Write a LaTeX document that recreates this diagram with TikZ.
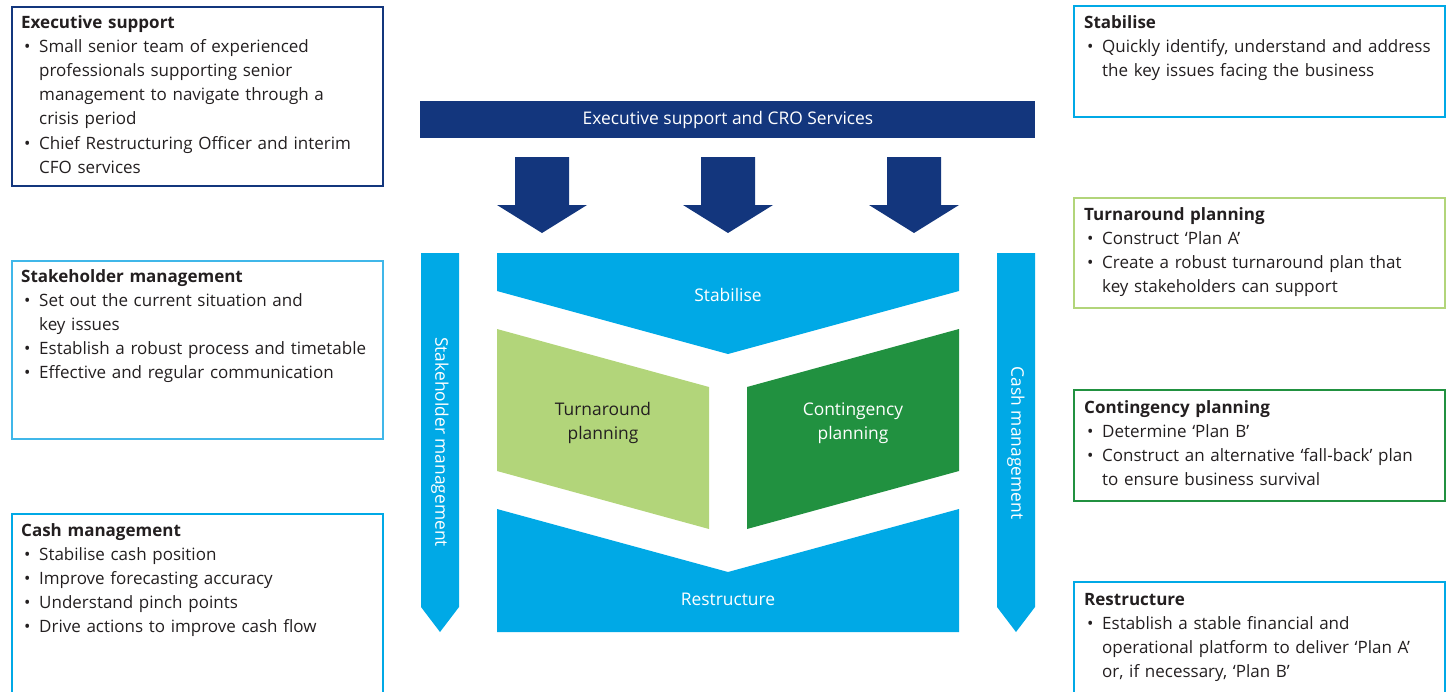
\documentclass[tikz,border=0pt]{standalone}
\usepackage{fontspec}
\setmainfont{Open Sans}
\definecolor{navy}{RGB}{19,54,125}
\definecolor{cyanb}{RGB}{0,169,230}
\definecolor{cyanl}{RGB}{64,183,233}
\definecolor{lgreen}{RGB}{178,213,122}
\definecolor{dgreen}{RGB}{33,145,64}
\definecolor{ink}{RGB}{35,31,32}
\newcommand{\bitem}[1]{\noindent\hangindent=18pt\hangafter=1\makebox[18pt][l]{\hspace{3pt}•}#1\par}
\newcommand{\bhead}[1]{\noindent\textbf{#1}\par}
\begin{document}
\begin{tikzpicture}[x=1pt,y=-1pt,
  infobox/.style={draw=#1,line width=2pt,anchor=north west,inner sep=0pt,minimum width=371pt},
  infotxt/.style={anchor=base west,inner sep=0pt,text width=368pt,align=left,text=ink,
    font=\fontsize{17}{24.2}\selectfont},
  lbl/.style={inner sep=0pt,text=white,align=center,font=\fontsize{17.4}{24.6}\selectfont},
]
\clip (0,0) rectangle (1446,691);
% left boxes
\node[infobox=navy,minimum height=179pt] (exbox) at (11,6) {};
\node[infotxt] (extxt) at (21,28) {\bhead{Executive support}
 \bitem{Small senior team of experienced\newline professionals supporting senior\newline management to navigate through a\newline crisis period}
 \bitem{Chief Restructuring Officer and interim\newline CFO services}};
\node[infobox=cyanl,minimum height=178pt] (shbox) at (11,260) {};
\node[infotxt] (shtxt) at (21,282) {\bhead{Stakeholder management}
 \bitem{Set out the current situation and\newline key issues}
 \bitem{Establish a robust process and timetable}
 \bitem{Effective and regular communication}};
\node[infobox=cyanb,minimum height=200pt] (cmbox) at (11,513) {};
\node[infotxt] (cmtxt) at (21,536) {\bhead{Cash management}
 \bitem{Stabilise cash position}
 \bitem{Improve forecasting accuracy}
 \bitem{Understand pinch points}
 \bitem{Drive actions to improve cash flow}};
% right boxes
\node[infobox=cyanb,minimum height=111pt] (stbox) at (1073,5) {};
\node[infotxt] (sttxt) at (1084,28) {\bhead{Stabilise}
 \bitem{Quickly identify, understand and address\newline the key issues facing the business}};
\node[infobox=lgreen,minimum height=110pt] (tpbox) at (1073,197) {};
\node[infotxt] (tptxt) at (1084,220) {\bhead{Turnaround planning}
 \bitem{Construct ‘Plan A’}
 \bitem{Create a robust turnaround plan that\newline key stakeholders can support}};
\node[infobox=dgreen,minimum height=111pt] (cpbox) at (1073,389) {};
\node[infotxt] (cptxt) at (1084,413) {\bhead{Contingency planning}
 \bitem{Determine ‘Plan B’}
 \bitem{Construct an alternative ‘fall-back’ plan\newline to ensure business survival}};
\node[infobox=cyanb,minimum height=200pt] (rsbox) at (1073,581) {};
\node[infotxt] (rstxt) at (1084,605) {\bhead{Restructure}
 \bitem{Establish a stable financial and\newline operational platform to deliver ‘Plan A’\newline or, if necessary, ‘Plan B’}};
% top bar and arrows
\fill[navy] (420,101) rectangle (1035,138);
\node[lbl] (barlbl) at (728,120) {Executive support and CRO Services};
\foreach \cx in {542,728,914}{
  \fill[navy] (\cx-27,157) -- (\cx+27,157) -- (\cx+27,205) -- (\cx+45,205) -- (\cx,233)
    -- (\cx-45,205) -- (\cx-27,205) -- cycle;
}
% central shapes
\fill[cyanb] (497,253) -- (959,253) -- (959,291) -- (728,354) -- (497,291) -- cycle;
\fill[lgreen] (497,329) -- (709,387) -- (709,529) -- (497,471) -- cycle;
\fill[dgreen] (747,387) -- (959,329) -- (959,471) -- (747,529) -- cycle;
\fill[cyanb] (497,509) -- (728,572) -- (959,509) -- (959,632) -- (497,632) -- cycle;
\fill[cyanb] (421,253) -- (459,253) -- (459,607) -- (440,632) -- (421,607) -- cycle;
\fill[cyanb] (997,253) -- (1035,253) -- (1035,607) -- (1016,632) -- (997,607) -- cycle;
\node[lbl] (stlbl) at (728,295) {Stabilise};
\node[lbl,text=ink] (tplbl) at (603,423) {Turnaround\\planning};
\node[lbl] (cplbl) at (853,423) {Contingency\\planning};
\node[lbl] (rslbl) at (728,599) {Restructure};
\node[lbl,rotate=-90] (shlbl) at (440,442) {Stakeholder management};
\node[lbl,rotate=-90] (cmlbl) at (1016,443) {Cash management};
\end{tikzpicture}
\end{document}
